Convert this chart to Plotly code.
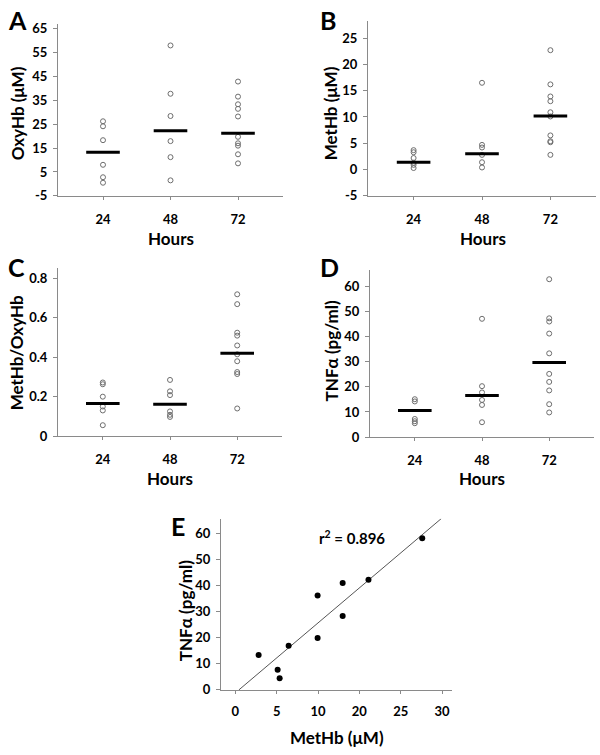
import numpy as np
import plotly.graph_objects as go

# ---------------- data ----------------
hours = [24, 48, 72]

oxyhb_24 = [26.2, 24.1, 18.3, 8.0, 2.8, 0.5]
oxyhb_48 = [57.9, 37.7, 28.4, 17.9, 11.2, 1.5]
oxyhb_72 = [42.8, 36.5, 33.3, 31.4, 28.2, 19.7, 17.0, 16.0, 12.4, 8.6]
oxyhb_mid = [13.3, 22.2, 21.2]
oxyhb_ticks = [-5, 5, 15, 25, 35, 45, 55, 65]

methb_24 = [3.7, 3.3, 2.2, 1.3, 0.9, 0.3]
methb_48 = [16.5, 4.7, 4.2, 2.8, 1.4, 0.4]
methb_72 = [22.7, 16.2, 13.9, 13.0, 10.9, 10.1, 6.5, 5.4, 5.2, 2.8]
methb_mid = [1.4, 3.0, 10.2]
methb_ticks = [-5, 0, 5, 10, 15, 20, 25]

ratio_24 = [0.272, 0.263, 0.200, 0.150, 0.130, 0.055]
ratio_48 = [0.285, 0.227, 0.208, 0.125, 0.108, 0.097]
ratio_72 = [0.72, 0.67, 0.525, 0.51, 0.46, 0.415, 0.38, 0.325, 0.315, 0.14]
ratio_mid = [0.165, 0.162, 0.42]
ratio_ticks = [0, 0.2, 0.4, 0.6, 0.8]

tnf_24 = [15.1, 14.2, 7.2, 6.3, 5.5]
tnf_48 = [47.2, 20.3, 17.8, 14.8, 12.8, 5.9]
tnf_72 = [63.0, 47.4, 46.1, 41.3, 33.4, 25.2, 22.0, 18.6, 13.1, 9.8]
tnf_mid = [10.6, 16.6, 29.8]
tnf_ticks = [0, 10, 20, 30, 40, 50, 60]

corr_methb = [2.82, 5.12, 5.36, 6.45, 9.95, 9.95, 12.98, 12.98, 16.1, 22.6]
corr_tnf = [13.4, 7.75, 4.5, 16.9, 36.1, 19.9, 40.9, 28.25, 42.1, 58.0]
corr_r2_label = "r<sup>2</sup> = 0.896"

e_tickvals = [0, 5, 10, 15, 20, 25]
e_ticktext = ["0", "5", "10", "20", "25", "30"]
e_yticks = [0, 10, 20, 30, 40, 50, 60]

# ---------------- layout helpers ----------------
W, H = 600, 755
FONT = "Lato, 'Open Sans', sans-serif"
AXC = "#8a8a8a"


def dom_x(p0, p1):
    return [p0 / W, p1 / W]


def dom_y(ptop, pbot):
    return [1 - pbot / H, 1 - ptop / H]


def fmt(v):
    return f"{v:g}".replace("\u2212", "-")


fig = go.Figure()

panels = [
    ("", [oxyhb_24, oxyhb_48, oxyhb_72], oxyhb_mid, (58, 283), (20, 195), [-5, 67], oxyhb_ticks),
    ("2", [methb_24, methb_48, methb_72], methb_mid, (368, 596), (17, 195), [-5, 28.3], methb_ticks),
    ("3", [ratio_24, ratio_48, ratio_72], ratio_mid, (58, 282), (268, 439), [0, 0.855], ratio_ticks),
    ("4", [tnf_24, tnf_48, tnf_72], tnf_mid, (370, 594), (270, 440), [0, 66.8], tnf_ticks),
]

tickfont = dict(family=FONT, size=13, color="black", weight="bold")

layout = {}
for key, groups, mids, xd, yd, yr, yt in panels:
    xa = "x" + key
    ya = "y" + key
    for h, vals in zip(hours, groups):
        fig.add_trace(go.Scatter(
            x=[h] * len(vals), y=vals, mode="markers", xaxis=xa, yaxis=ya,
            marker=dict(symbol="circle-open", size=5, color="#6e6e6e",
                        line=dict(width=1, color="#6e6e6e")),
            showlegend=False, hoverinfo="y"))
    fig.add_trace(go.Scatter(
        x=hours, y=mids, mode="markers", xaxis=xa, yaxis=ya,
        marker=dict(symbol="line-ew", size=24, color="black",
                    line=dict(width=3, color="black")),
        showlegend=False, hoverinfo="y"))
    layout["xaxis" + key] = dict(
        domain=dom_x(*xd), range=[8, 88], tickvals=hours, anchor=ya,
        showline=True, linecolor=AXC, linewidth=1, ticks="outside", ticklen=3,
        tickcolor=AXC, showgrid=False, zeroline=False, ticklabelstandoff=8,
        tickfont=tickfont, fixedrange=True)
    layout["yaxis" + key] = dict(
        domain=dom_y(*yd), range=yr, tickvals=yt, ticktext=[fmt(v) for v in yt],
        anchor=xa, showline=True, linecolor=AXC, linewidth=1, ticks="outside",
        ticklen=4, tickcolor=AXC, showgrid=False, zeroline=False,
        ticklabelstandoff=3, tickfont=tickfont, fixedrange=True)

# ---------------- panel E ----------------
slope, intercept = np.polyfit(corr_methb, corr_tnf, 1)
e_yrange = [0, 65.5]
line_x = np.array([-intercept / slope, (e_yrange[1] - intercept) / slope])
fig.add_trace(go.Scatter(
    x=line_x, y=slope * line_x + intercept, mode="lines", xaxis="x5", yaxis="y5",
    line=dict(color="#555555", width=1), showlegend=False, hoverinfo="skip"))
fig.add_trace(go.Scatter(
    x=corr_methb, y=corr_tnf, mode="markers", xaxis="x5", yaxis="y5",
    marker=dict(symbol="circle", size=6, color="black"), showlegend=False))
layout["xaxis5"] = dict(
    domain=dom_x(221, 452), range=[-1.73, 26.2], tickvals=e_tickvals,
    ticktext=e_ticktext, anchor="y5", showline=True, linecolor=AXC, linewidth=1,
    ticks="outside", ticklen=3, tickcolor=AXC, showgrid=False, zeroline=False,
    ticklabelstandoff=6, tickfont=tickfont, fixedrange=True)
layout["yaxis5"] = dict(
    domain=dom_y(523, 697), range=e_yrange, tickvals=e_yticks, anchor="x5",
    showline=True, linecolor=AXC, linewidth=1, ticks="outside", ticklen=4,
    tickcolor=AXC, showgrid=False, zeroline=False, ticklabelstandoff=3,
    tickfont=tickfont, fixedrange=True)


def ann(text, px, py, size, angle=0):
    return dict(text=text, x=px / W, y=1 - py / H, xref="paper", yref="paper",
                xanchor="center", yanchor="middle", showarrow=False,
                textangle=angle,
                font=dict(family=FONT, size=size, color="black", weight="bold"))


annotations = [
    ann("A", 17, 16, 25), ann("B", 328, 16, 25), ann("C", 16, 267, 25),
    ann("D", 329, 267, 25), ann("E", 178, 530, 25),
    ann("Hours", 171, 238, 17), ann("Hours", 483, 238, 17),
    ann("Hours", 170, 482, 17), ann("Hours", 482, 482, 17),
    ann("MetHb (μM)", 337, 745, 17),
    ann("OxyHb (μM)", 17, 111, 17, -90), ann("MetHb (μM)", 330, 111, 17, -90),
    ann("MetHb/OxyHb", 16, 355, 17, -90), ann("TNFα (pg/ml)", 331, 353, 17, -90),
    ann("TNFα (pg/ml)", 185, 617, 17, -90),
    ann(corr_r2_label, 352, 542, 15),
]

fig.update_layout(
    width=W, height=H, margin=dict(l=0, r=0, t=0, b=0),
    paper_bgcolor="white", plot_bgcolor="white",
    annotations=annotations, showlegend=False, **layout)

fig.write_html(
    "out.html",
    config={"displayModeBar": False},
    post_script="document.body.style.margin='0';document.body.style.padding='0';")
